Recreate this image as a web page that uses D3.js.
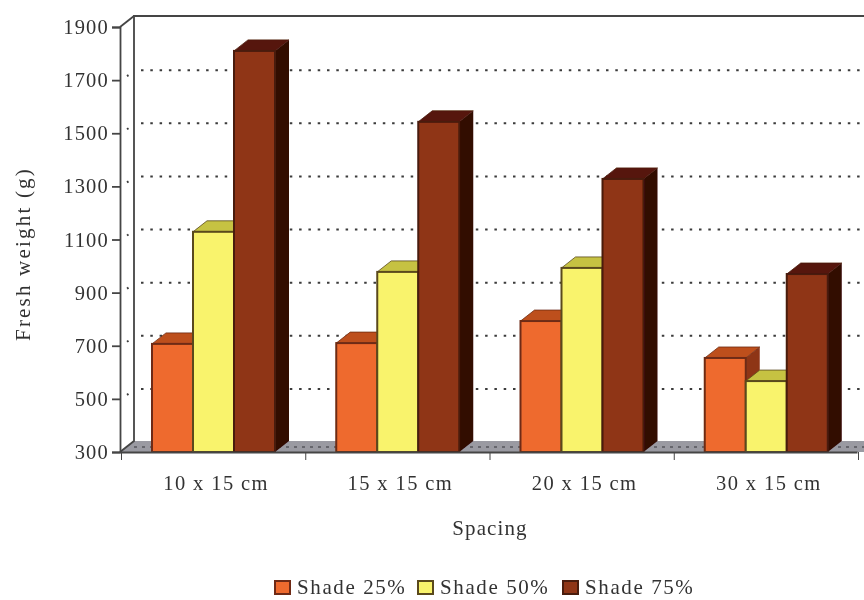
<!DOCTYPE html>
<html>
<head>
<meta charset="utf-8">
<script src="https://cdn.jsdelivr.net/npm/d3@7"></script>
<style>
  html, body { margin: 0; padding: 0; background: #fff; }
  text { font-family: "Liberation Serif", serif; fill: #333; }
</style>
</head>
<body>
<svg id="chart" width="864" height="600"></svg>
<script>
(function() {

	var categories = ['10 x 15 cm', '15 x 15 cm', '20 x 15 cm', '30 x 15 cm'];
	var seriesNames = ['Shade 25%', 'Shade 50%', 'Shade 75%'];
	var shade25 = [707, 710, 793, 654];
	var shade50 = [1129, 978, 993, 567];
	var shade75 = [1810, 1543, 1328, 970];
	var yTicks = [300, 500, 700, 900, 1100, 1300, 1500, 1700, 1900];

	var seriesValues = [shade25, shade50, shade75];

	var colors = [
		{ front: '#ee6b2f', top: '#bd4f1e', side: '#8e3517', edge: '#6e2c12' },
		{ front: '#f9f36c', top: '#c6c243', side: '#8f8c2a', edge: '#5a4a1c' },
		{ front: '#8f3418', top: '#561808', side: '#300705', edge: '#4a1a0a' }
	];

	var left = 120, right = 857, top = 27, bottom = 452,
		depthX = 14, depthY = 11;

	var svg = d3.select('#chart');

	//the reference is a soft scan, so everything gets a small blur
	svg.append('defs').append('filter')
		.attr('id', 'soft')
		.attr('filterUnits', 'userSpaceOnUse')
		.attr('x', 0).attr('y', 0).attr('width', 864).attr('height', 600)
		.append('feGaussianBlur')
		.attr('stdDeviation', 0.7);

	var root = svg.append('g').attr('filter', 'url(#soft)');

	var y = d3.scaleLinear().domain([300, 1900]).range([bottom, top]);

	var x0 = d3.scaleBand().domain(categories).range([left, right]);

	var x1 = d3.scaleBand().domain(seriesNames).range([32, 155]);

	var line = d3.line();

	//floor
	root.append('path')
		.attr('fill', '#9a9aa2')
		.attr('d', line([[left, bottom], [left + depthX, bottom - depthY], [864, bottom - depthY], [864, bottom]]) + 'Z');

	root.append('line')
		.attr('x1', left + depthX).attr('x2', 864)
		.attr('y1', bottom - 5).attr('y2', bottom - 5)
		.attr('stroke', '#55555c')
		.attr('stroke-width', 1.5)
		.attr('stroke-dasharray', '3 5');

	//gridlines on the back wall and the slanted bit on the side wall
	var grid = root.append('g')
		.selectAll('g')
		.data(yTicks.slice(1, -1))
		.enter()
		.append('g');

	grid.append('line')
		.attr('x1', left + depthX + 7)
		.attr('x2', 864)
		.attr('y1', function(d) { return y(d) - depthY + 1; })
		.attr('y2', function(d) { return y(d) - depthY + 1; })
		.attr('stroke', '#3a3a3a')
		.attr('stroke-width', 2)
		.attr('stroke-dasharray', '2.5 6.8');

	grid.append('line')
		.attr('x1', left + 7)
		.attr('x2', left + 8.5)
		.attr('y1', function(d) { return y(d) - 4; })
		.attr('y2', function(d) { return y(d) - 5; })
		.attr('stroke', '#3a3a3a')
		.attr('stroke-width', 2);

	//walls
	root.append('path')
		.attr('fill', 'none')
		.attr('stroke', '#444')
		.attr('stroke-width', 1.8)
		.attr('d', line([[left, bottom], [left + depthX, bottom - depthY], [left + depthX, top - depthY], [864, top - depthY]]));

	root.append('line')
		.attr('x1', left).attr('x2', left + depthX)
		.attr('y1', top).attr('y2', top - depthY)
		.attr('stroke', '#444')
		.attr('stroke-width', 1.8);

	//bars, left to right so each front covers the side of the previous one
	var groups = root.selectAll('g.category')
		.data(categories)
		.enter()
		.append('g')
		.attr('class', 'category')
		.attr('transform', function(d) { return 'translate(' + x0(d) + ',0)'; });

	var bars = groups.selectAll('g.bar')
		.data(function(d, i) {
			return seriesNames.map(function(name, s) {
				return { name: name, index: s, value: seriesValues[s][i] };
			});
		})
		.enter()
		.append('g')
		.attr('class', 'bar');

	bars.append('path')
		.attr('fill', function(d) { return colors[d.index].side; })
		.attr('d', function(d) {
			var xr = x1(d.name) + x1.bandwidth(), yt = y(d.value);
			return line([[xr, yt], [xr + depthX, yt - depthY], [xr + depthX, bottom - depthY], [xr, bottom]]) + 'Z';
		});

	bars.append('path')
		.attr('fill', function(d) { return colors[d.index].top; })
		.attr('stroke', function(d) { return colors[d.index].edge; })
		.attr('stroke-width', 0.8)
		.attr('d', function(d) {
			var xl = x1(d.name), xr = xl + x1.bandwidth(), yt = y(d.value);
			return line([[xl, yt], [xl + depthX, yt - depthY], [xr + depthX, yt - depthY], [xr, yt]]) + 'Z';
		});

	bars.append('rect')
		.attr('x', function(d) { return x1(d.name); })
		.attr('y', function(d) { return y(d.value); })
		.attr('width', x1.bandwidth())
		.attr('height', function(d) { return bottom - y(d.value); })
		.attr('fill', function(d) { return colors[d.index].front; })
		.attr('stroke', function(d) { return colors[d.index].edge; })
		.attr('stroke-width', 2);

	//axes
	var yAxis = root.append('g')
		.attr('transform', 'translate(' + left + ',0)')
		.call(d3.axisLeft(y).tickValues(yTicks).tickFormat(d3.format('d')).tickSize(8).tickPadding(3));

	yAxis.selectAll('text')
		.attr('font-size', 20.5)
		.attr('font-family', '"Liberation Serif", serif')
		.attr('letter-spacing', 1.2);

	var xAxis = root.append('g')
		.attr('transform', 'translate(0,' + bottom + ')')
		.call(d3.axisBottom(x0).tickSize(0).tickPadding(23));

	xAxis.selectAll('text')
		.attr('font-size', 20.5)
		.attr('font-family', '"Liberation Serif", serif')
		.attr('letter-spacing', 1.4)
		.attr('dx', 4);

	xAxis.selectAll('.tickmark')
		.data(d3.range(categories.length + 1))
		.enter()
		.append('line')
		.attr('class', 'tickmark')
		.attr('x1', function(d) { return left + 1.5 + d * x0.step(); })
		.attr('x2', function(d) { return left + 1.5 + d * x0.step(); })
		.attr('y1', 0)
		.attr('y2', 8)
		.attr('stroke', '#444');

	root.selectAll('.domain, .tick line')
		.attr('stroke', '#444')
		.attr('stroke-width', 1.8);

	//titles
	root.append('text')
		.attr('transform', 'translate(30,254) rotate(-90)')
		.attr('text-anchor', 'middle')
		.attr('font-size', 21)
		.attr('letter-spacing', 2.2)
		.text('Fresh weight (g)');

	root.append('text')
		.attr('x', 490)
		.attr('y', 535)
		.attr('text-anchor', 'middle')
		.attr('font-size', 21)
		.attr('letter-spacing', 1.1)
		.text('Spacing');

	//legend
	var legendX = [275, 418, 563];

	var legend = root.selectAll('g.legend')
		.data(seriesNames)
		.enter()
		.append('g')
		.attr('class', 'legend')
		.attr('transform', function(d, i) { return 'translate(' + legendX[i] + ',581)'; });

	legend.append('rect')
		.attr('width', 15)
		.attr('height', 13)
		.attr('fill', function(d, i) { return colors[i].front; })
		.attr('stroke', function(d, i) { return colors[i].edge; })
		.attr('stroke-width', 2);

	legend.append('text')
		.attr('x', 22)
		.attr('y', 13)
		.attr('font-size', 21)
		.attr('letter-spacing', 1.6)
		.text(function(d) { return d; });

}())
</script>
</body>
</html>
